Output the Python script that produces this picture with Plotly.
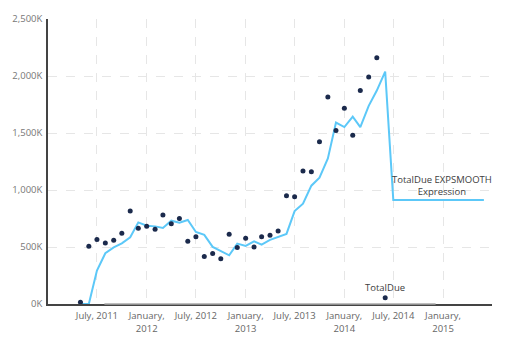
import plotly.graph_objects as go
import pandas as pd

# TotalDue actuals (monthly, thousands)
due_months = pd.date_range("2011-05-01", "2014-06-01", freq="MS")
total_due = [16, 506, 565, 536, 559, 620, 816, 664, 681, 655, 781, 705, 751, 550,
             591, 416, 442, 396, 611, 495, 576, 501, 591, 602, 641, 950, 941, 1166,
             1160, 1423, 1816, 1522, 1718, 1481, 1872, 1992, 2161, 54]

# EXPSMOOTH expression (monthly, thousands)
smooth_months = pd.date_range("2011-05-01", "2015-06-01", freq="MS")
expsmooth = [0, 0, 293, 445, 497, 532, 585, 716, 687, 681, 667, 731, 714, 737,
             632, 606, 501, 468, 427, 530, 510, 550, 521, 562, 585, 615, 815, 880,
             1038, 1108, 1277, 1592, 1552, 1644, 1552, 1738, 1872, 2038,
             912, 912, 912, 912, 912, 912, 912, 912, 912, 912, 912, 912]

x_tick_dates = ["2011-07-01", "2012-01-01", "2012-07-01", "2013-01-01",
                "2013-07-01", "2014-01-01", "2014-07-01", "2015-01-01"]
x_tick_text = ["July, 2011", "January,<br>2012", "July, 2012", "January,<br>2013",
               "July, 2013", "January,<br>2014", "July, 2014", "January,<br>2015"]
y_tick_vals = [0, 500, 1000, 1500, 2000, 2500]
y_tick_text = ["0K", "500K", "1,000K", "1,500K", "2,000K", "2,500K"]

FONT = "Open Sans, Segoe UI, sans-serif"

fig = go.Figure()
fig.add_trace(go.Scatter(
    x=smooth_months, y=expsmooth, mode="lines",
    line=dict(color="#5CC8F8", width=2), name="TotalDue EXPSMOOTH Expression",
    hoverinfo="skip"))
fig.add_trace(go.Scatter(
    x=due_months, y=total_due, mode="markers",
    marker=dict(color="#1B2A4C", size=5), name="TotalDue"))

fig.add_annotation(x=due_months[-1], y=total_due[-1], text="TotalDue",
                   showarrow=False, yanchor="bottom", yshift=2,
                   font=dict(family=FONT, size=9.5, color="#404040"))
fig.add_annotation(x="2014-12-28", y=expsmooth[-1], text="TotalDue EXPSMOOTH<br>Expression",
                   showarrow=False, yanchor="bottom", yshift=0,
                   font=dict(family=FONT, size=9.5, color="#404040"))

# lighter middle section of the baseline
fig.add_shape(type="line", xref="paper", yref="paper", x0=0.127, x1=0.873, y0=0, y1=0,
              line=dict(color="#a8a8a8", width=1.5), layer="above")

fig.update_layout(
    width=506, height=349,
    margin=dict(l=43, r=14, t=19, b=45),
    plot_bgcolor="white", paper_bgcolor="white",
    showlegend=False,
    font=dict(family=FONT, size=9.5, color="#777777"),
    xaxis=dict(
        type="date", range=["2011-01-01", "2015-07-01"],
        tickvals=x_tick_dates, ticktext=x_tick_text, tickangle=0,
        showgrid=True, gridcolor="#e6e6e6", griddash="dash", gridwidth=1,
        showline=True, linecolor="#444444", linewidth=1.5,
        zeroline=False, ticks="", ticklabelstandoff=2,
        tickfont=dict(size=9.5, color="#666666"),
    ),
    yaxis=dict(
        range=[0, 2500], tickvals=y_tick_vals, ticktext=y_tick_text,
        showgrid=True, gridcolor="#e6e6e6", griddash="dash", gridwidth=1,
        showline=True, linecolor="#444444", linewidth=1.5,
        zeroline=False, ticks="", ticklabelstandoff=2,
        tickfont=dict(size=9.5, color="#777777"),
    ),
)

fig.write_html("out.html")
